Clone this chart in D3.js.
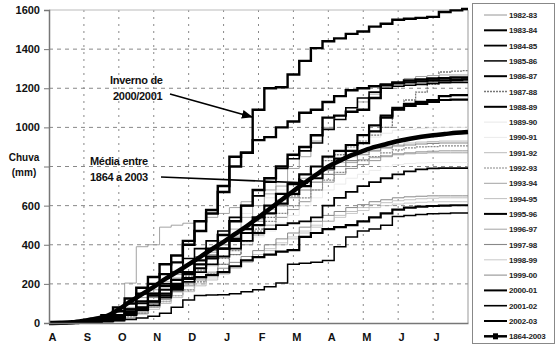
<!DOCTYPE html>
<html>
<head>
<meta charset="utf-8">
<script src="https://cdn.jsdelivr.net/npm/d3@7"></script>
<style>
  body { margin: 0; background: #fff; }
  text { font-family: 'Liberation Sans', Arial, sans-serif; }
</style>
</head>
<body>
<div id="chart"></div>
<script>
// months of the hydrological year, Aug -> Jul
var monthLabels = ['A', 'S', 'O', 'N', 'D', 'J', 'F', 'M', 'A', 'M', 'J', 'J']
var yTicks = [0, 200, 400, 600, 800, 1000, 1200, 1400, 1600]

// cumulative rain (mm), one value per 10-day period (37 points, 1 Aug -> 1 Aug)
var y1982_83 = [0,0,0,0,2,5,10,25,50,80,120,160,200,230,260,300,350,400,450,500,540,580,620,680,720,760,790,810,830,850,865,870,875,878,880,880,880]
var y1983_84 = [0,0,0,3,8,15,30,50,80,110,140,180,230,280,330,380,430,480,540,600,660,710,760,800,850,880,910,960,1010,1060,1100,1120,1130,1140,1160,1165,1165]
var y1984_85 = [0,0,0,2,5,10,20,40,65,90,130,170,210,260,300,340,380,420,460,480,500,510,520,540,600,640,670,700,720,740,760,775,785,790,792,792,792]
var y1985_86 = [0,0,0,2,5,8,12,18,25,35,50,80,118,140,143,145,150,160,170,185,205,300,305,310,320,390,440,470,480,500,545,550,555,558,560,562,562]
var y1986_87 = [0,0,2,5,10,20,40,70,110,150,190,220,260,300,340,380,420,460,500,560,610,660,700,740,790,840,880,920,980,1050,1090,1110,1120,1130,1140,1142,1142]
var y1987_88 = [0,0,0,0,3,8,15,30,50,80,110,140,170,210,250,300,350,420,480,540,600,650,700,760,830,860,900,930,960,1000,1090,1140,1180,1220,1283,1288,1290]
var y1988_89 = [0,0,2,5,10,20,40,70,110,140,170,200,225,235,245,260,290,320,337,350,365,373,440,460,480,490,500,520,540,560,580,590,595,598,600,602,602]
var y1989_90 = [0,0,2,5,10,15,30,60,100,150,210,270,330,380,420,470,520,560,600,640,680,720,760,800,840,870,900,930,950,970,985,990,995,998,1000,1000,1000]
var y1990_91 = [0,0,0,2,5,10,20,40,70,100,140,180,220,250,290,330,370,410,440,470,510,550,600,640,680,710,740,760,780,800,810,815,818,820,820,820,820]
var y1991_92 = [0,0,0,2,5,10,25,50,80,130,180,220,250,300,360,400,450,490,530,580,630,660,700,740,790,820,850,870,890,900,910,920,925,928,930,930,930]
var y1992_93 = [0,0,0,3,6,10,18,30,50,90,140,190,240,270,300,330,370,420,470,520,560,600,640,680,730,770,800,830,850,870,885,895,900,902,905,905,905]
var y1993_94 = [0,0,0,5,10,20,40,80,130,170,210,230,260,300,350,420,480,540,600,660,720,790,850,930,1000,1060,1100,1130,1170,1200,1230,1250,1260,1265,1268,1268,1268]
var y1994_95 = [0,0,0,0,3,6,12,25,45,70,100,130,160,190,220,250,280,310,340,370,400,430,460,490,520,550,570,590,605,615,625,630,635,638,640,640,640]
var y1995_96 = [0,0,0,2,5,10,25,45,70,110,150,190,250,320,380,450,520,600,680,740,800,860,900,960,1050,1060,1080,1090,1150,1220,1225,1230,1235,1240,1240,1242,1245]
var y1996_97 = [0,0,2,5,10,30,60,204,390,400,490,500,510,520,540,560,590,620,650,680,700,720,740,760,780,800,820,835,845,855,860,865,868,870,870,870,870]
var y1997_98 = [0,0,2,4,8,14,25,45,80,130,190,250,300,340,370,400,440,480,520,560,600,640,680,720,760,800,830,860,880,895,905,910,915,918,920,920,920]
var y1998_99 = [0,0,0,2,4,8,15,30,55,80,110,140,170,200,230,260,290,320,350,380,410,440,470,500,520,540,560,575,590,600,608,613,617,619,620,620,620]
var y1999_00 = [0,0,0,3,6,10,20,40,70,100,130,160,190,220,250,280,310,340,370,400,430,460,490,520,550,570,590,605,620,630,640,645,648,650,650,650,650]
var y2000_01 = [0,0,3,8,15,40,80,125,180,235,300,345,420,520,578,670,800,870,1090,1200,1205,1270,1340,1405,1440,1455,1478,1490,1515,1530,1550,1555,1560,1565,1590,1598,1605]
var y2001_02 = [0,0,0,0,5,15,30,60,100,150,200,260,330,380,420,470,540,600,650,720,790,840,880,920,990,1040,1100,1150,1180,1200,1210,1215,1220,1225,1228,1230,1230]
var y2002_03 = [0,0,2,6,12,30,60,100,150,200,250,310,400,470,560,700,850,870,935,950,1000,1030,1075,1090,1130,1160,1190,1200,1210,1215,1230,1240,1245,1250,1252,1255,1255]
var mean1864_2003 = [0,1,4,12,22,36,70,110,148,185,225,262,300,338,378,415,455,495,540,585,630,675,718,760,800,830,858,880,900,915,930,942,952,960,966,972,976]

var years = [
  ['1982-83', y1982_83], ['1983-84', y1983_84], ['1984-85', y1984_85], ['1985-86', y1985_86],
  ['1986-87', y1986_87], ['1987-88', y1987_88], ['1988-89', y1988_89], ['1989-90', y1989_90],
  ['1990-91', y1990_91], ['1991-92', y1991_92], ['1992-93', y1992_93], ['1993-94', y1993_94],
  ['1994-95', y1994_95], ['1995-96', y1995_96], ['1996-97', y1996_97], ['1997-98', y1997_98],
  ['1998-99', y1998_99], ['1999-00', y1999_00], ['2000-01', y2000_01], ['2001-02', y2001_02],
  ['2002-03', y2002_03]
]

// line look for each year
var styles = {
  '1982-83': { color: '#8a8a8a', w: 0.9 },
  '1983-84': { color: '#000', w: 2.2 },
  '1984-85': { color: '#000', w: 1.8 },
  '1985-86': { color: '#000', w: 1.5 },
  '1986-87': { color: '#000', w: 2.2 },
  '1987-88': { color: '#777', w: 1.3, dash: '2,1' },
  '1988-89': { color: '#000', w: 2.2 },
  '1989-90': { color: '#e2e2e2', w: 0.8 },
  '1990-91': { color: '#e6e6e6', w: 0.8 },
  '1991-92': { color: '#aaa', w: 0.8 },
  '1992-93': { color: '#888', w: 1.2, dash: '2,1' },
  '1993-94': { color: '#999', w: 0.9 },
  '1994-95': { color: '#b0b0b0', w: 0.8 },
  '1995-96': { color: '#000', w: 2.4 },
  '1996-97': { color: '#999', w: 0.9 },
  '1997-98': { color: '#888', w: 1.1 },
  '1998-99': { color: '#bbb', w: 0.8 },
  '1999-00': { color: '#888', w: 1.0 },
  '2000-01': { color: '#000', w: 2.4 },
  '2001-02': { color: '#000', w: 1.6 },
  '2002-03': { color: '#000', w: 2.4 }
}

var width = 557
var height = 349
var plot = { left: 49, right: 468, top: 10, bottom: 323 }

var svg = d3
  .select('#chart')
  .append('svg')
  .attr('width', width)
  .attr('height', height)

var xPositionScale = d3.scaleLinear().domain([0, 12]).range([plot.left, plot.right])
var yPositionScale = d3.scaleLinear().domain([0, 1600]).range([plot.bottom, plot.top])

/* grid */
svg.append('g')
  .selectAll('line')
  .data(yTicks.slice(1, -1))
  .enter()
  .append('line')
  .attr('x1', plot.left)
  .attr('x2', plot.right)
  .attr('y1', d => yPositionScale(d))
  .attr('y2', d => yPositionScale(d))
  .attr('stroke', '#888')
  .attr('stroke-dasharray', '4,4')

svg.append('g')
  .selectAll('line')
  .data(d3.range(1, 12))
  .enter()
  .append('line')
  .attr('x1', d => xPositionScale(d))
  .attr('x2', d => xPositionScale(d))
  .attr('y1', plot.top)
  .attr('y2', plot.bottom)
  .attr('stroke', '#888')
  .attr('stroke-dasharray', '2,5')

// frame top/right
svg.append('line')
  .attr('x1', plot.left).attr('x2', plot.right)
  .attr('y1', plot.top).attr('y2', plot.top)
  .attr('stroke', '#bbb')
svg.append('line')
  .attr('x1', plot.right).attr('x2', plot.right)
  .attr('y1', plot.top).attr('y2', plot.bottom)
  .attr('stroke', '#999')

/* series, drawn as daily-style staircases */
var line = d3.line()
  .x((d, i) => xPositionScale(i / 3))
  .y(d => yPositionScale(d))
  .curve(d3.curveStep)

var order = years.slice().sort((a, b) => {
  var wa = styles[a[0]].color === '#000' ? 1 : 0
  var wb = styles[b[0]].color === '#000' ? 1 : 0
  return wa - wb
})

svg.append('g')
  .selectAll('path')
  .data(order)
  .enter()
  .append('path')
  .attr('d', d => line(d[1]))
  .attr('fill', 'none')
  .attr('stroke', d => styles[d[0]].color)
  .attr('stroke-width', d => styles[d[0]].w)
  .attr('stroke-dasharray', d => styles[d[0]].dash || null)

var meanLine = d3.line()
  .x((d, i) => xPositionScale(i / 3))
  .y(d => yPositionScale(d))
  .curve(d3.curveMonotoneX)

svg.append('path')
  .attr('d', meanLine(mean1864_2003))
  .attr('fill', 'none')
  .attr('stroke', '#000')
  .attr('stroke-width', 4.5)

/* axes */
// the 800 label is replaced by the axis title in the original
var yAxis = d3.axisLeft(yPositionScale).tickValues(yTicks).tickSize(5).tickPadding(4)
  .tickFormat(d => d === 800 ? '' : String(d))
svg.append('g')
  .attr('class', 'axis y-axis')
  .attr('transform', `translate(${plot.left},0)`)
  .call(yAxis)
  .call(g => g.select('.domain').attr('stroke', '#777').attr('stroke-width', 1.5))
  .call(g => g.selectAll('.tick line').attr('stroke', '#777'))
  .call(g => g.selectAll('text').attr('font-size', 11).attr('font-weight', 'bold').attr('fill', '#111'))

var xAxis = d3.axisBottom(xPositionScale).tickValues(d3.range(0, 12)).tickSize(0).tickPadding(10)
  .tickFormat(d => monthLabels[d])
svg.append('g')
  .attr('class', 'axis x-axis')
  .attr('transform', `translate(0,${plot.bottom})`)
  .call(xAxis)
  .call(g => g.select('.domain').attr('stroke', '#777').attr('stroke-width', 1.5))
  .call(g => g.selectAll('text').attr('font-size', 11).attr('font-weight', 'bold').attr('fill', '#111').attr('dx', 3))

svg.append('text').attr('x', 24).attr('y', 161).attr('text-anchor', 'middle')
  .attr('font-size', 10).attr('font-weight', 'bold').attr('fill', '#111').text('Chuva')
svg.append('text').attr('x', 24).attr('y', 176).attr('text-anchor', 'middle')
  .attr('font-size', 10).attr('font-weight', 'bold').attr('fill', '#111').text('(mm)')

/* annotations */
svg.append('defs').append('marker')
  .attr('id', 'arrow')
  .attr('viewBox', '0 0 10 10')
  .attr('refX', 9).attr('refY', 5)
  .attr('markerWidth', 7).attr('markerHeight', 7)
  .attr('orient', 'auto')
  .append('path')
  .attr('d', 'M0,1L10,5L0,9z')
  .attr('fill', '#000')

function note(lines, x, y) {
  lines.forEach((t, i) => {
    svg.append('text')
      .attr('x', x).attr('y', y + i * 16)
      .attr('font-size', 11).attr('font-weight', 'bold').attr('fill', '#111')
      .attr('letter-spacing', -0.3)
      .text(t)
  })
}
note(['Inverno de'], 110, 84)
note(['2000/2001'], 113, 100)
note(['Média entre', '1864 a 2003'], 90, 165)

svg.append('line')
  .attr('x1', 170).attr('y1', 94).attr('x2', 252).attr('y2', 117)
  .attr('stroke', '#000').attr('stroke-width', 1.6)
  .attr('marker-end', 'url(#arrow)')
svg.append('line')
  .attr('x1', 161).attr('y1', 177).attr('x2', 308).attr('y2', 183)
  .attr('stroke', '#000').attr('stroke-width', 1.6)
  .attr('marker-end', 'url(#arrow)')

/* legend */
var legend = svg.append('g')
legend.append('rect')
  .attr('x', 472.5).attr('y', 3.5).attr('width', 82).attr('height', 340)
  .attr('fill', '#fff').attr('stroke', '#888')

var legendItems = years.map(d => d[0]).concat(['1864-2003'])
var rows = legend.selectAll('g.row')
  .data(legendItems)
  .enter()
  .append('g')
  .attr('class', 'row')
  .attr('transform', (d, i) => `translate(0,${15 + i * 15.3})`)

rows.append('line')
  .attr('x1', 484).attr('x2', 507)
  .attr('stroke', d => d === '1864-2003' ? '#000' : styles[d].color)
  .attr('stroke-width', d => d === '1864-2003' ? 2.5 : Math.min(styles[d].w, 2))
  .attr('stroke-dasharray', d => d !== '1864-2003' && styles[d].dash ? styles[d].dash : null)

rows.filter(d => d === '1864-2003')
  .append('rect')
  .attr('x', 493).attr('y', -3).attr('width', 5).attr('height', 6)
  .attr('fill', '#000')

rows.append('text')
  .attr('x', 509).attr('y', 3)
  .attr('font-size', 8).attr('font-weight', 'bold').attr('fill', '#222')
  .attr('letter-spacing', -0.2)
  .text(d => d)
</script>
</body>
</html>
